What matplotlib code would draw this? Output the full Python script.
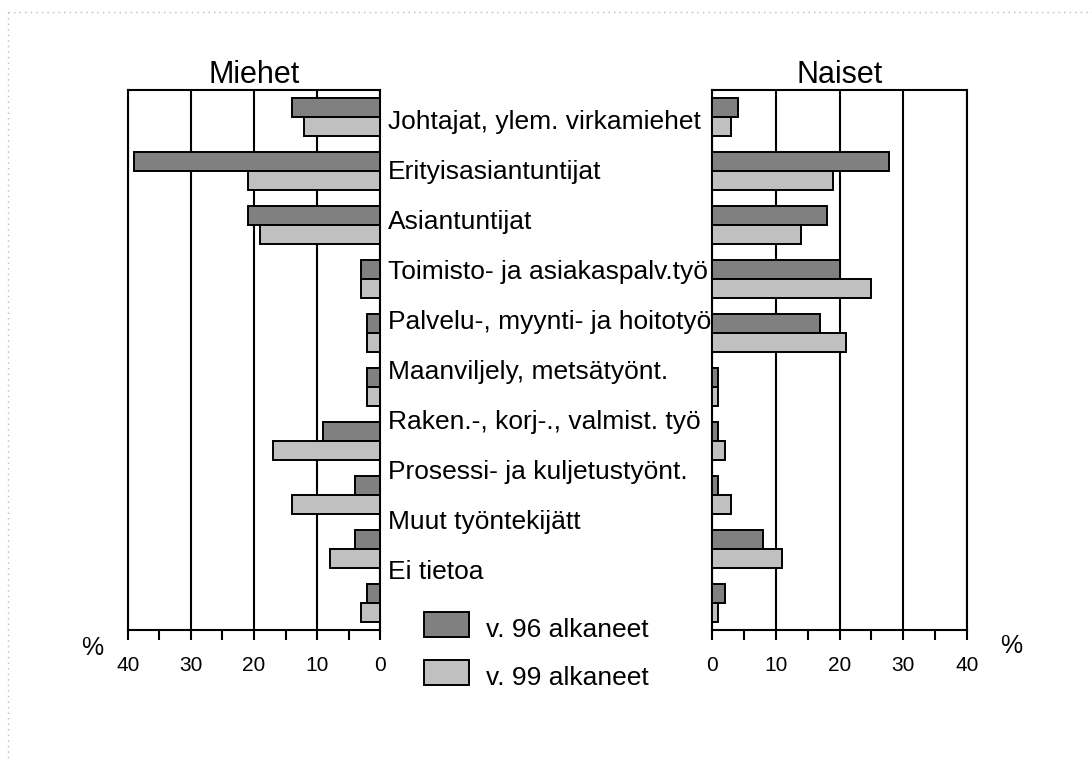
import matplotlib
matplotlib.use("Agg")
import matplotlib.pyplot as plt
from matplotlib.lines import Line2D
from matplotlib.patches import Rectangle
from matplotlib.ticker import MultipleLocator
import numpy as np

plt.rcParams['font.family'] = ['Liberation Sans', 'DejaVu Sans']

categories = ["Johtajat, ylem. virkamiehet", "Erityisasiantuntijat", "Asiantuntijat",
              "Toimisto- ja asiakaspalv.työ", "Palvelu-, myynti- ja hoitotyö",
              "Maanviljely, metsätyönt.", "Raken.-, korj-., valmist. työ",
              "Prosessi- ja kuljetustyönt.", "Muut työntekijätt", "Ei tietoa"]
series_names = ["v. 96 alkaneet", "v. 99 alkaneet"]
men_96 = [14, 39, 21, 3, 2, 2, 9, 4, 4, 2]
men_99 = [12, 21, 19, 3, 2, 2, 17, 14, 8, 3]
women_96 = [4, 27.7, 18, 20, 17, 1, 1, 1, 8, 2]
women_99 = [3, 19, 14, 25, 21, 1, 2, 3, 11, 1]
ticks = [0, 10, 20, 30, 40]

DARK = "#808080"
LIGHT = "#c0c0c0"
W, H = 1092, 760
fig = plt.figure(figsize=(W / 100, H / 100), dpi=100)
fig.patch.set_facecolor("white")

def fx(px):
    return px / W

def fy(py):
    return 1 - py / H

axL = fig.add_axes([fx(128), fy(630), fx(252), 540 / H])
axR = fig.add_axes([fx(712), fy(630), fx(255), 540 / H])

y = np.arange(len(categories))
bh = 0.35
for ax, d96, d99, title in [(axL, men_96, men_99, "Miehet"), (axR, women_96, women_99, "Naiset")]:
    ax.barh(y - bh / 2, d96, height=bh, color=DARK, edgecolor="black", linewidth=1.4, zorder=3)
    ax.barh(y + bh / 2, d99, height=bh, color=LIGHT, edgecolor="black", linewidth=1.4, zorder=3)
    ax.set_ylim(len(categories) - 0.5, -0.5)
    ax.set_yticks([])
    ax.xaxis.set_major_locator(MultipleLocator(10))
    ax.xaxis.set_minor_locator(MultipleLocator(5))
    ax.set_xticks(ticks)
    ax.set_xticklabels([str(t) for t in ticks], fontsize=15)
    ax.tick_params(axis="x", which="both", direction="out", width=1.5, length=7, pad=12)
    ax.grid(axis="x", which="major", color="black", linewidth=1.5, zorder=1)
    for s in ax.spines.values():
        s.set_linewidth(1.5)
    ax.set_title(title, fontsize=22, pad=5)
    ax.set_facecolor("white")

axL.set_xlim(40, 0)
axR.set_xlim(0, 40)
axR.set_zorder(5)

fig.text(fx(92), fy(648), "%", fontsize=18, ha="center", va="center")
fig.text(fx(1011), fy(646), "%", fontsize=18, ha="center", va="center")

for i, c in enumerate(categories):
    fig.text(fx(388), fy(122 + 50 * i), c, fontsize=19, ha="left", va="center", zorder=3)

for k, (name, col) in enumerate(zip(series_names, [DARK, LIGHT])):
    top = 612 + 48 * k
    fig.add_artist(Rectangle((fx(424), fy(top + 25)), fx(45), 25 / H, facecolor=col,
                             edgecolor="black", linewidth=1.4, transform=fig.transFigure))
    fig.text(fx(486), fy(top + 18), name, fontsize=19, ha="left", va="center")

fig.add_artist(Line2D([fx(8), 1], [fy(12), fy(12)], color="#bbbbbb", linestyle=(0, (1, 3)),
                      linewidth=1, transform=fig.transFigure))
fig.add_artist(Line2D([fx(8), fx(8)], [fy(12), 0], color="#bbbbbb", linestyle=(0, (1, 3)),
                      linewidth=1, transform=fig.transFigure))

fig.savefig("out.png", dpi=100, facecolor="white")
